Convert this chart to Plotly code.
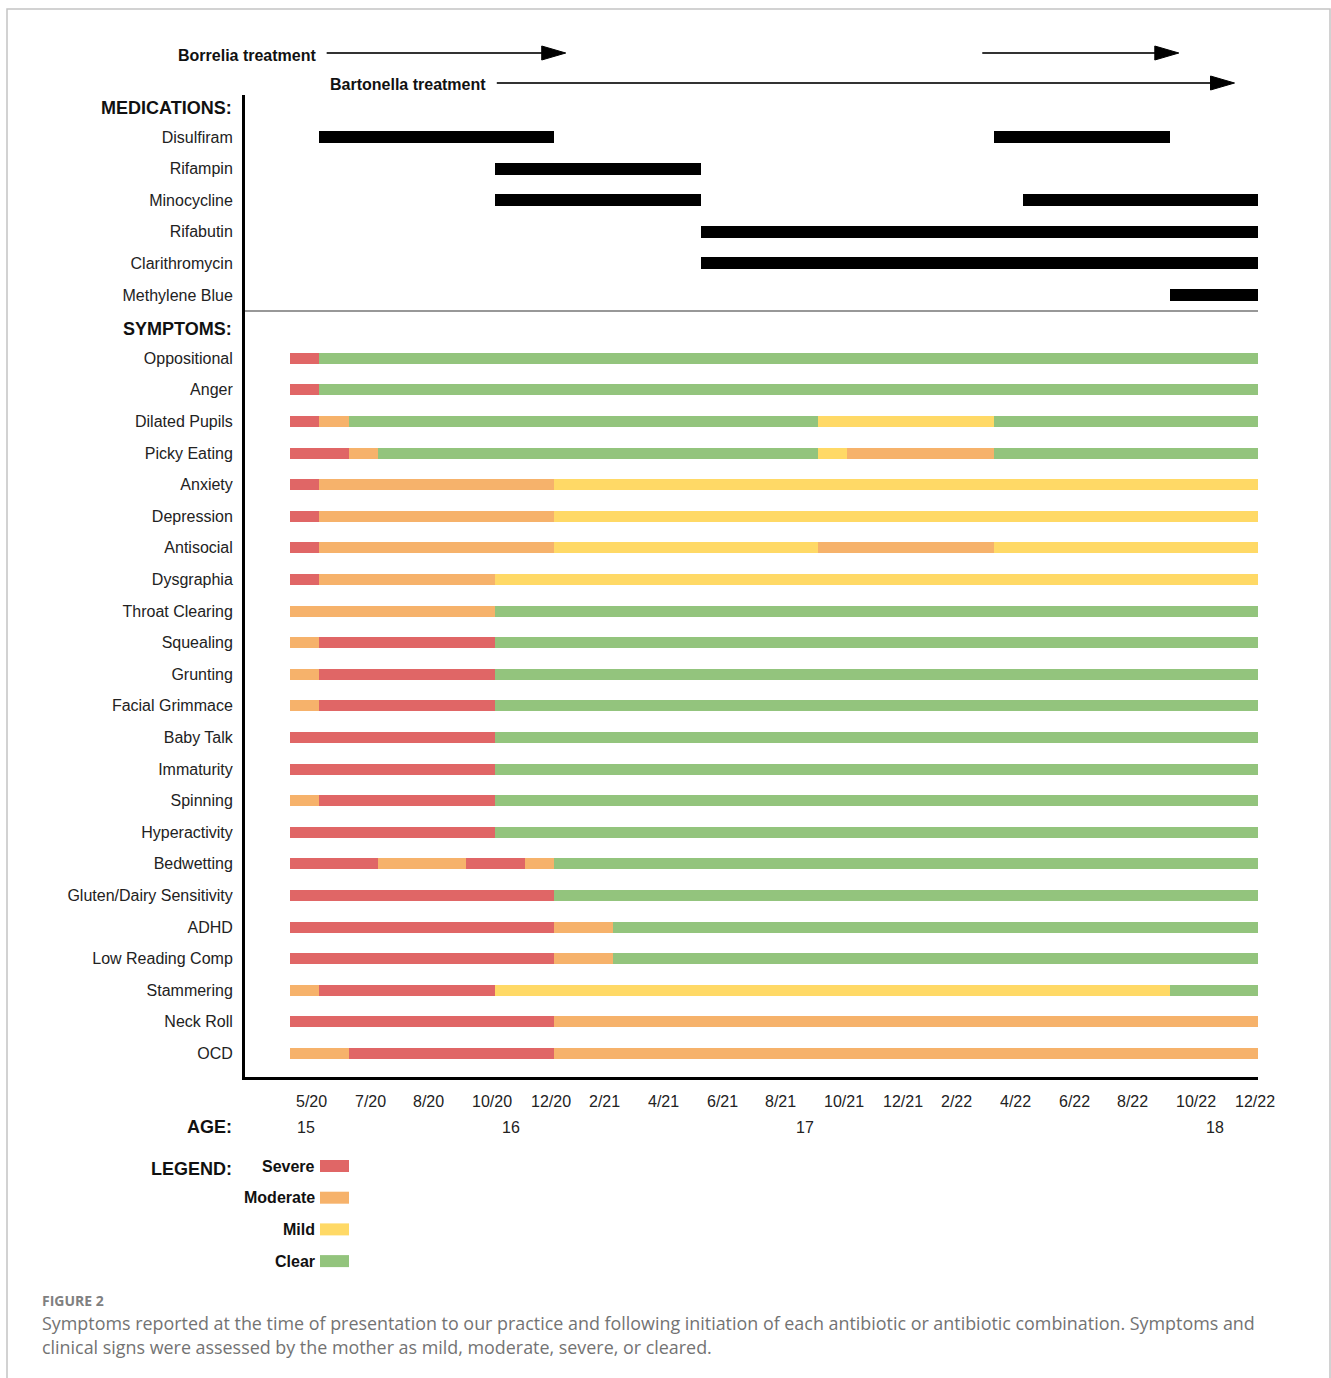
import plotly.graph_objects as go

W, H = 1331, 1378

# ---------------- data ----------------
month_labels = ["5/20", "7/20", "8/20", "10/20", "12/20", "2/21", "4/21", "6/21", "8/21",
                "10/21", "12/21", "2/22", "4/22", "6/22", "8/22", "10/22", "12/22"]
month_pos = [0, 2, 4, 6, 8, 10, 12, 14, 16, 18, 20, 22, 24, 26, 28, 30, 32]
age_labels = ["15", "16", "17", "18"]
age_pos = [0, 7, 17, 31]

med_names = ["Disulfiram", "Rifampin", "Minocycline", "Rifabutin", "Clarithromycin", "Methylene Blue"]
med_starts = [[1, 24], [7], [7, 25], [14], [14], [30]]
med_ends = [[9, 30], [14], [14, 33], [33], [33], [33]]

borrelia_start = [1.25, 23.6]
borrelia_end = [9.4, 30.3]
bartonella_start = [7.05]
bartonella_end = [32.2]

symptom_names = ["Oppositional", "Anger", "Dilated Pupils", "Picky Eating", "Anxiety", "Depression",
                 "Antisocial", "Dysgraphia", "Throat Clearing", "Squealing", "Grunting",
                 "Facial Grimmace", "Baby Talk", "Immaturity", "Spinning", "Hyperactivity",
                 "Bedwetting", "Gluten/Dairy Sensitivity", "ADHD", "Low Reading Comp",
                 "Stammering", "Neck Roll", "OCD"]
symptom_ends = [
    [1, 33], [1, 33], [1, 2, 18, 24, 33], [2, 3, 18, 19, 24, 33], [1, 9, 33], [1, 9, 33],
    [1, 9, 18, 24, 33], [1, 7, 33], [7, 33], [1, 7, 33], [1, 7, 33],
    [1, 7, 33], [7, 33], [7, 33], [1, 7, 33], [7, 33],
    [3, 6, 8, 9, 33], [9, 33], [9, 11, 33], [9, 11, 33],
    [1, 7, 30, 33], [9, 33], [2, 9, 33]]
symptom_levels = [
    ["S", "C"], ["S", "C"], ["S", "M", "C", "Mi", "C"], ["S", "M", "C", "Mi", "M", "C"],
    ["S", "M", "Mi"], ["S", "M", "Mi"],
    ["S", "M", "Mi", "M", "Mi"], ["S", "M", "Mi"], ["M", "C"], ["M", "S", "C"], ["M", "S", "C"],
    ["M", "S", "C"], ["S", "C"], ["S", "C"], ["M", "S", "C"], ["S", "C"],
    ["S", "M", "S", "M", "C"], ["S", "C"], ["S", "M", "C"], ["S", "M", "C"],
    ["M", "S", "Mi", "C"], ["S", "M"], ["M", "S", "M"]]

level_codes = ["S", "M", "Mi", "C"]
level_names = ["Severe", "Moderate", "Mild", "Clear"]
level_colors = ["#E06666", "#F6B26B", "#FFD966", "#93C47D"]

# ---------------- geometry helpers (pixel -> paper) ----------------
def px(x):
    return x / W

def py(y):
    return 1 - y / H

ROW = 31.6          # px per row
ROW0 = 137          # px of first row
UNIT = 968 / 33     # px per x unit

def yrow(p):
    return (p - ROW0) / ROW

med_rows = list(range(len(med_names)))
sym_rows = [len(med_names) + 1 + i for i in range(len(symptom_names))]

fig = go.Figure()

# medications
mx, mb, my = [], [], []
for r, s_list, e_list in zip(med_rows, med_starts, med_ends):
    for s, e in zip(s_list, e_list):
        mx.append(e - s); mb.append(s); my.append(r)
fig.add_trace(go.Bar(orientation="h", y=my, x=mx, base=mb, width=12 / ROW,
                     marker=dict(color="#000000", line=dict(width=0)), showlegend=False))

# symptoms
for code, name, col in zip(level_codes, level_names, level_colors):
    xs, bs, ys = [], [], []
    for r, ends, levs in zip(sym_rows, symptom_ends, symptom_levels):
        start = 0
        for e, lv in zip(ends, levs):
            if lv == code:
                xs.append(e - start); bs.append(start); ys.append(r)
            start = e
    fig.add_trace(go.Bar(orientation="h", y=ys, x=xs, base=bs, width=11 / ROW, name=name,
                         marker=dict(color=col, line=dict(width=0)), showlegend=False))

font_lab = "Liberation Sans, Arial, sans-serif"

fig.update_layout(
    width=W, height=H, margin=dict(l=0, r=0, t=0, b=0),
    paper_bgcolor="white", plot_bgcolor="white", barmode="overlay", bargap=0,
    showlegend=False,
    xaxis=dict(domain=[px(245), px(1258)], range=[-45 / UNIT, 33], showgrid=False, zeroline=False,
               showticklabels=False, ticks="", showline=True, linecolor="#000", linewidth=3,
               fixedrange=True),
    yaxis=dict(domain=[py(1077), py(95)], range=[yrow(1077), yrow(95)], showgrid=False,
               zeroline=False, tickmode="array", tickvals=med_rows + sym_rows,
               ticktext=med_names + symptom_names, ticks="", ticklabelstandoff=6,
               tickfont=dict(family=font_lab, size=16, color="#222"),
               showline=True, linecolor="#000", linewidth=3, fixedrange=True),
)

shapes = []
annotations = []

# divider between medications and symptoms
shapes.append(dict(type="line", xref="x", yref="y", x0=-45 / UNIT, x1=33,
                   y0=yrow(311), y1=yrow(311), line=dict(color="#333", width=1.2)))

# section headers
for txt, p in [("MEDICATIONS:", 108), ("SYMPTOMS:", 329)]:
    annotations.append(dict(text="<b>" + txt + "</b>", xref="paper", yref="y", x=px(234), y=yrow(p),
                            xanchor="right", yanchor="middle", showarrow=False,
                            font=dict(family=font_lab, size=18, color="#111")))

# treatment arrows (y in paper coords, since they sit above the plotting area)
def add_arrows(starts, ends, ypix, label):
    yv = py(ypix)
    for i, (s, e) in enumerate(zip(starts, ends)):
        shapes.append(dict(type="line", xref="x", yref="paper", x0=s, x1=e - 20 / UNIT, y0=yv, y1=yv,
                           line=dict(color="#333", width=2)))
        shapes.append(dict(type="path", xref="x", yref="paper", xsizemode="pixel", ysizemode="pixel",
                           xanchor=e, yanchor=yv, path="M-24,-7 L0,0 L-24,7 Z",
                           fillcolor="#000", line=dict(color="#000", width=1)))
        if i == 0:
            annotations.append(dict(text="<b>" + label + "</b>", xref="x", yref="paper", x=s, y=py(ypix + 2),
                                    xanchor="right", yanchor="middle", xshift=-9,
                                    showarrow=False, font=dict(family=font_lab, size=16, color="#111")))

add_arrows(borrelia_start, borrelia_end, 53, "Borrelia treatment")
add_arrows(bartonella_start, bartonella_end, 83, "Bartonella treatment")

# month labels (left-aligned under the axis)
for lab, pos in zip(month_labels, month_pos):
    annotations.append(dict(text=lab, xref="x", yref="paper", x=pos, y=py(1101), xanchor="left",
                            yanchor="middle", xshift=4, showarrow=False,
                            font=dict(family=font_lab, size=16, color="#222")))
annotations.append(dict(text="<b>AGE:</b>", xref="paper", yref="paper", x=px(234), y=py(1127),
                        xanchor="right", yanchor="middle", showarrow=False,
                        font=dict(family=font_lab, size=18, color="#111")))
for lab, pos in zip(age_labels, age_pos):
    annotations.append(dict(text=lab, xref="x", yref="paper", x=pos, y=py(1127), xanchor="left",
                            yanchor="middle", xshift=5, showarrow=False,
                            font=dict(family=font_lab, size=16, color="#222")))

# legend
annotations.append(dict(text="<b>LEGEND:</b>", xref="paper", yref="paper", x=px(234), y=py(1169),
                        xanchor="right", yanchor="middle", showarrow=False,
                        font=dict(family=font_lab, size=18, color="#111")))
for i, (name, col) in enumerate(zip(level_names, level_colors)):
    yc = 1166 + i * 31.7
    shapes.append(dict(type="rect", xref="paper", yref="paper", x0=px(320), x1=px(349),
                       y0=py(yc - 6), y1=py(yc + 6), fillcolor=col, line=dict(width=0)))
    annotations.append(dict(text="<b>" + name + "</b>", xref="paper", yref="paper", x=px(317),
                            y=py(yc), xanchor="right", yanchor="middle", showarrow=False,
                            font=dict(family=font_lab, size=16, color="#111")))

# caption
annotations.append(dict(text="<b>FIGURE 2</b>", xref="paper", yref="paper", x=px(40), y=py(1300),
                        xanchor="left", yanchor="middle", showarrow=False,
                        font=dict(family="Open Sans, sans-serif", size=14, color="#808080")))
cap1 = ("Symptoms reported at the time of presentation to our practice and following initiation of each "
        "antibiotic or antibiotic combination. Symptoms and")
cap2 = "clinical signs were assessed by the mother as mild, moderate, severe, or cleared."
for txt, yc in [(cap1, 1323), (cap2, 1347)]:
    annotations.append(dict(text=txt, xref="paper", yref="paper", x=px(40), y=py(yc),
                            xanchor="left", yanchor="middle", showarrow=False,
                            font=dict(family="Open Sans, sans-serif", size=17.9, color="#737373")))

# outer frame
shapes.append(dict(type="rect", xref="paper", yref="paper", x0=px(7), x1=px(1330), y0=py(9),
                   y1=py(1400), line=dict(color="#c4c4c4", width=1.5), fillcolor="rgba(0,0,0,0)"))

fig.update_layout(shapes=shapes, annotations=annotations)

fig.write_html("out.html", config={"displayModeBar": False},
               post_script="document.body.style.margin='0';document.body.style.overflow='hidden';")
